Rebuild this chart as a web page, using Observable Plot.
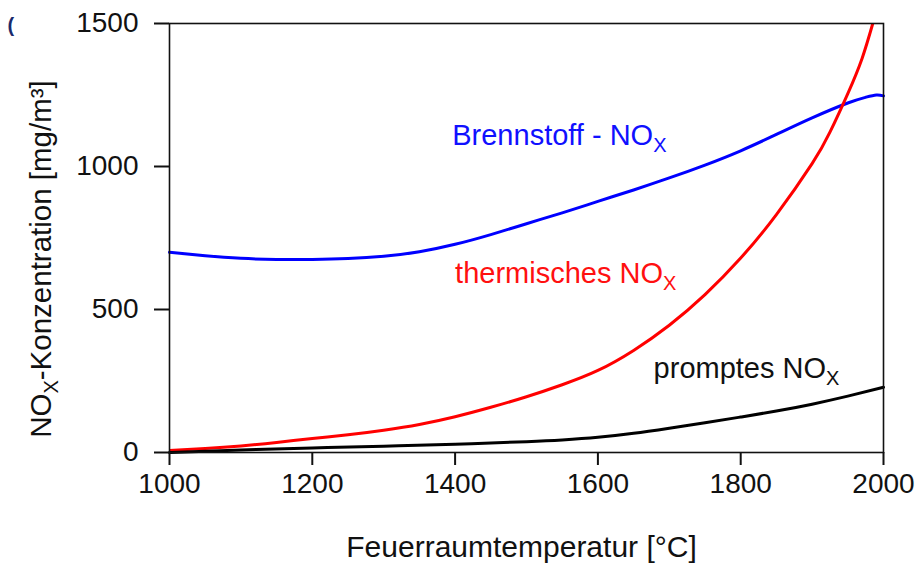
<!DOCTYPE html>
<html><head><meta charset="utf-8">
<script src="https://cdn.jsdelivr.net/npm/d3@7"></script>
<script src="https://cdn.jsdelivr.net/npm/@observablehq/plot@0.6"></script>
<style>html,body{margin:0;padding:0;background:#fff;} svg{display:block;}</style>
</head><body><div id="chart"></div>
<script>
// Brennstoff-NOx
const brennT = [1000,1050,1100,1150,1200,1250,1300,1350,1400,1450,1500,1550,1600,1650,1700,1750,1800,1850,1900,1950,1975,1990,2000];
const brennV = [700,688,679,675,675,678,686,702,728,762,800,838,878,918,960,1005,1055,1112,1170,1222,1242,1250,1247];
// thermisches NOx
const thermT = [1000,1050,1100,1150,1200,1250,1300,1350,1400,1450,1500,1550,1600,1650,1700,1750,1800,1850,1900,1925,1950,1970,1985];
const thermV = [7,14,23,35,49,62,78,98,125,158,195,237,287,357,445,552,680,832,1010,1120,1255,1378,1500];
// promptes NOx
const promptT = [1000,1100,1200,1300,1400,1500,1550,1600,1650,1700,1750,1800,1850,1900,1950,2000];
const promptV = [0,9,16,22,29,38,44,53,67,85,104,124,145,169,197,228];

const xTicks = [1000,1200,1400,1600,1800,2000];
const yTicks = [0,500,1000,1500];
const labels = ["Brennstoff - NO_X","thermisches NO_X","promptes NO_X"];
const labelT = [1396,1400,1678];
const labelV = [1074,591,262];
const labelColors = ["#1010ff","#ff1010","#111111"];
const xTitle = "Feuerraumtemperatur [°C]";
const yTitle = "NO_X-Konzentration [mg/m³]";
const cornerMark = "(";

const toRows = (T, V) => T.map((t, i) => ({T: t, v: V[i]}));
const labelRows = labels.map((s, i) => ({s, T: labelT[i], v: labelV[i], c: labelColors[i]}));
const font = "'Liberation Sans', Arial, Helvetica, sans-serif";

const chart = Plot.plot({
  width: 917, height: 563,
  marginLeft: 169, marginRight: 34, marginTop: 23, marginBottom: 111,
  x: {domain: [1000, 2000]},
  y: {domain: [0, 1500]},
  style: {fontFamily: font, fontSize: "28px", color: "#111", background: "#fff"},
  marks: [
    Plot.line(toRows(brennT, brennV), {x: "T", y: "v", stroke: "#0000ff", strokeWidth: 3, curve: "natural"}),
    Plot.line(toRows(thermT, thermV), {x: "T", y: "v", stroke: "#ff0000", strokeWidth: 3, curve: "natural", clip: true}),
    Plot.line(toRows(promptT, promptV), {x: "T", y: "v", stroke: "#000000", strokeWidth: 3, curve: "natural"}),
    Plot.frame({stroke: "#111", strokeWidth: 1.6}),
    Plot.axisX({ticks: xTicks, tickSize: 13, tickPadding: 8, tickFormat: d => String(d), label: null, fontSize: 28, strokeWidth: 2, fill: "#111"}),
    Plot.axisY({ticks: yTicks, tickSize: 15, tickPadding: 16, tickFormat: d => String(d), label: null, fontSize: 28, strokeWidth: 2, fill: "#111"}),
    Plot.text(labelRows, {x: "T", y: "v", text: "s", fill: "c", textAnchor: "start", lineAnchor: "bottom", fontSize: 29}),
    Plot.text([xTitle], {frameAnchor: "bottom", lineAnchor: "bottom", dx: -5, dy: 104, fontSize: 30, fill: "#111"}),
    Plot.text([yTitle], {frameAnchor: "left", rotate: -90, lineAnchor: "bottom", textAnchor: "middle", dx: -119, dy: 21, fontSize: 29.5, fill: "#111"}),
    Plot.text([cornerMark], {frameAnchor: "top-left", textAnchor: "start", lineAnchor: "middle", dx: -162, dy: 2, fontSize: 20, fontWeight: "bold", fill: "#1a2a6c"})
  ]
});

// subscript X in NOx labels
d3.select(chart).selectAll("text").each(function() {
  const s = this.textContent;
  if (!s.includes("_X")) return;
  const parts = s.split("_X");
  const sel = d3.select(this);
  sel.text(null);
  sel.append("tspan").text(parts[0]);
  sel.append("tspan").attr("font-size", "20px").attr("dy", "7px").text("X");
  if (parts[1]) sel.append("tspan").attr("dy", "-7px").text(parts[1]);
});

document.getElementById("chart").appendChild(chart);
</script>
</body></html>
